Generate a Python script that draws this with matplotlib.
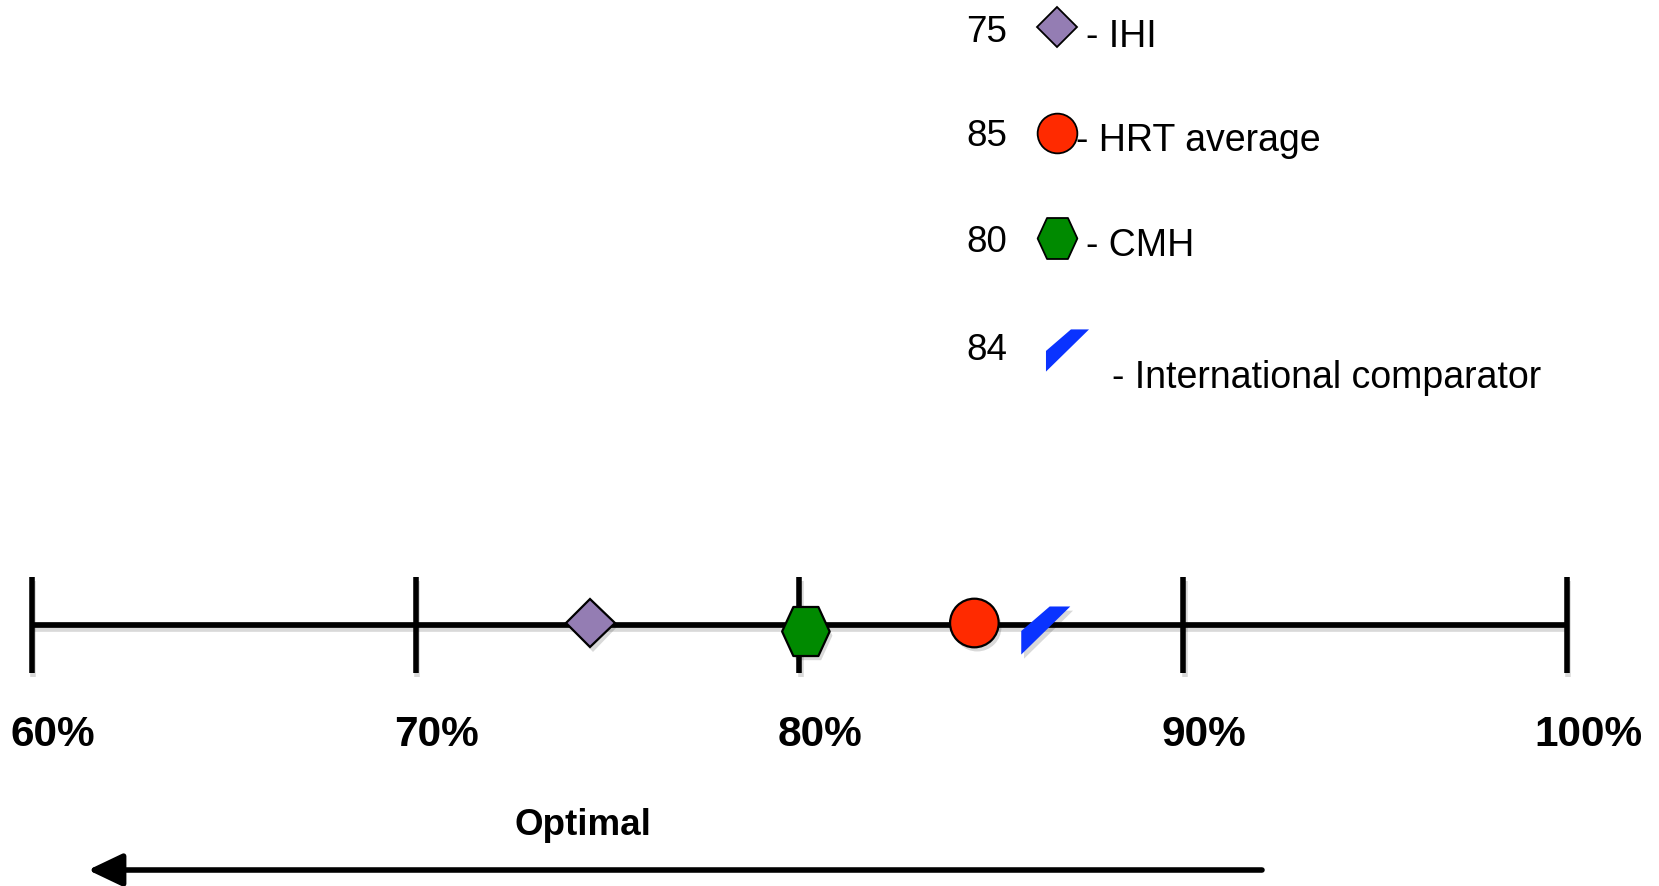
import numpy as np
import matplotlib.pyplot as plt
from matplotlib.path import Path
import matplotlib.patheffects as pe

plt.rcParams['font.family'] = ['Liberation Sans', 'DejaVu Sans']

W, H = 1659, 887

# key entries (top right) and where each marker sits on the scale
labels = ['IHI', 'HRT average', 'CMH', 'International comparator']
scores = [75, 85, 80, 84]
positions = [74.55, 84.56, 80.17, 86.42]
colors = ['#947DB3', '#FF2A00', '#008A00', '#0A33FF']

ticks = [60, 70, 80, 90, 100]
tick_labels = ['60%', '70%', '80%', '90%', '100%']

# marker shapes
hexagon = Path([(-0.97, 0), (-0.51, 1), (0.51, 1), (0.97, 0), (0.51, -1), (-0.51, -1), (-0.97, 0)],
               [Path.MOVETO] + [Path.LINETO] * 5 + [Path.CLOSEPOLY])
slash = Path([(-25, -24.5), (-25, -0.5), (4, 24.5), (25, 24.5), (-25, -24.5)],
             [Path.MOVETO, Path.LINETO, Path.LINETO, Path.LINETO, Path.CLOSEPOLY])
markers = ['D', 'o', hexagon, slash]
big_sizes = [24.8, 35, 35.3, 35.3]
small_sizes = [20.5, 28.6, 29.5, 31]
edges = ['black', 'black', 'black', 'none']
dy_main = [-2, -2, 6.5, 5.5]   # small vertical nudges seen in the picture

fig = plt.figure(figsize=(W / 100, H / 100), dpi=100)
lay = fig.add_axes([0, 0, 1, 1])
lay.set_xlim(0, W)
lay.set_ylim(H, 0)
lay.axis('off')

ax = fig.add_axes([0, 0, 1, 1])
ax.patch.set_alpha(0)
ax.set_xlim(60 - 31.7 / 38.38, 100 + (W - 1567) / 38.38)
ax.set_ylim(H, 0)
ax.axis('off')

shadow_line = [pe.SimpleLineShadow(offset=(1, -3), shadow_color='k', alpha=0.15), pe.Normal()]
shadow_mark = [pe.SimplePatchShadow(offset=(2, -3), shadow_rgbFace='k', alpha=0.15), pe.Normal()]

# scale
line_y = 626
ax.plot([ticks[0], ticks[-1]], [line_y, line_y], color='black', lw=4.1,
        solid_capstyle='butt', path_effects=shadow_line, zorder=2)
for t, lab in zip(ticks, tick_labels):
    ax.plot([t, t], [578, 674], color='black', lw=4, solid_capstyle='butt',
            path_effects=shadow_line, zorder=2)
    ax.annotate(lab, (t, 735), xytext=(21, 0), textcoords='offset pixels',
                ha='center', va='center', fontsize=30.5, fontweight='bold')

for x, m, s, c, e, dy in zip(positions, markers, big_sizes, colors, edges, dy_main):
    ax.plot([x], [line_y + dy], marker=m, ms=s, mfc=c, mec=e, mew=1.6,
            ls='none', path_effects=shadow_mark, zorder=3)

# key
key_rows = [33, 137, 243, 351]
key_mark_y = [28, 134, 239, 351]
key_text_x = [1086, 1076, 1086, 1112]
key_text_y = [37, 141, 246, 378]
for i in range(len(labels)):
    lay.text(987, key_rows[i], str(scores[i]), ha='center', va='center', fontsize=26.5)
    lay.plot([1057 if i < 3 else 1067], [key_mark_y[i]], marker=markers[i],
             ms=small_sizes[i], mfc=colors[i], mec=edges[i], mew=1.3, ls='none')
    lay.text(key_text_x[i], key_text_y[i], '- ' + labels[i], ha='left', va='center',
             fontsize=27)

# optimal arrow
lay.text(583, 826, 'Optimal', ha='center', va='center', fontsize=26.5, fontweight='bold')
lay.annotate('', xy=(88, 871), xytext=(1262, 871),
             arrowprops=dict(arrowstyle='-|>,head_length=0.42,head_width=0.2',
                             lw=4, color='black', mutation_scale=50,
                             shrinkA=0, shrinkB=0))

fig.savefig('out.png', dpi=100)
